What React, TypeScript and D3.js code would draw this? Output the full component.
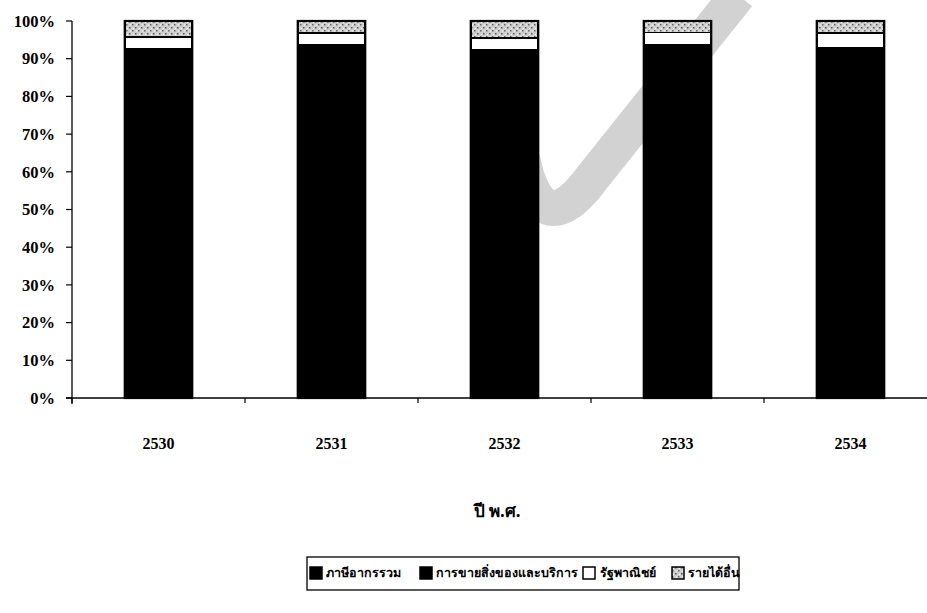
import React from "react";
import * as d3 from "d3";

const years = ["2530", "2531", "2532", "2533", "2534"];
const seriesNames = ["ภาษีอากรรวม", "การขายสิ่งของและบริการ", "รัฐพาณิชย์", "รายได้อื่น"];
const taxShare = [90.8, 91.8, 90.5, 91.8, 91.2];
const salesShare = [1.8, 1.8, 1.8, 1.8, 1.8];
const stateShare = [3.1, 3.2, 3.2, 3.4, 3.8];
const otherShare = [4.3, 3.2, 4.5, 3.0, 3.2];
const yTicks = [0, 10, 20, 30, 40, 50, 60, 70, 80, 90, 100];
const xTitle = "ปี พ.ศ.";

const W = 927;
const H = 613;
const left = 72;
const right = 937;
const top = 21;
const bottom = 398;

export default function App() {
  const x = d3.scaleBand<string>().domain(years).range([left, right]).paddingInner(0.61).paddingOuter(0.305);
  const y = d3.scaleLinear().domain([0, 100]).range([bottom, top]);
  const data = years.map((yr, i) => ({
    year: yr,
    tax: taxShare[i],
    sales: salesShare[i],
    state: stateShare[i],
    other: otherShare[i],
  }));
  const keys = ["tax", "sales", "state", "other"];
  const stack = d3.stack<any>().keys(keys)(data);
  const fills = ["#000", "#000", "#fff", "url(#stip)"];
  const step = x.step();
  const boundaries = years.map((_, i) => left + step * i).concat([left + step * years.length]);
  const serif = "Liberation Serif";
  const thai = "Noto Sans, DejaVu Sans, sans-serif";

  const legendItems = [
    { name: seriesNames[0], fill: "#000", x: 310, tx: 326 },
    { name: seriesNames[1], fill: "#000", x: 420, tx: 436 },
    { name: seriesNames[2], fill: "#fff", x: 583, tx: 600 },
    { name: seriesNames[3], fill: "url(#stip)", x: 672, tx: 688 },
  ];

  return (
    <svg width={W} height={H} style={{ position: "absolute", left: 0, top: 0, background: "#fff" }}>
      <defs>
        <pattern id="stip" width="6" height="6" patternUnits="userSpaceOnUse">
          <rect width="6" height="6" fill="#cfcfcf" />
          <rect x="0" y="0" width="1.5" height="1.5" fill="#666" />
          <rect x="3" y="3" width="1.5" height="1.5" fill="#555" />
          <rect x="4" y="0.5" width="1" height="1" fill="#fff" />
          <rect x="1" y="4" width="1" height="1" fill="#fff" />
        </pattern>
      </defs>
      {/* scan watermark */}
      <path d="M 738 -5 L 592 178 Q 548 238 527 178 L 514 130" fill="none" stroke="#d2d2d2" strokeWidth={36} strokeLinecap="butt" />
      {/* bars */}
      {stack.map((layer, li) =>
        layer.map((d, i) => (
          <rect
            key={li + "-" + i}
            x={x(years[i])!}
            y={y(d[1])}
            width={x.bandwidth()}
            height={y(d[0]) - y(d[1])}
            fill={fills[li]}
            stroke="#000"
            strokeWidth={li >= 2 ? 1.6 : 1}
            shapeRendering="crispEdges"
          />
        ))
      )}
      {years.map((yr) => (
        <rect key={"o" + yr} x={x(yr)!} y={y(100)} width={x.bandwidth()} height={y(0) - y(100)} fill="none" stroke="#000" strokeWidth={2.2} />
      ))}
      {/* y axis */}
      <line x1={left} x2={left} y1={top} y2={bottom + 6} stroke="#000" strokeWidth={1.3} />
      {yTicks.map((t) => (
        <g key={t}>
          <line x1={left - 6} x2={left} y1={y(t)} y2={y(t)} stroke="#000" strokeWidth={1.2} />
          <text x={left - 17} y={y(t)} dy="0.35em" textAnchor="end" fontFamily={serif} fontWeight="bold" fontSize={16.5} fill="#000">
            {t + "%"}
          </text>
        </g>
      ))}
      {/* x axis */}
      <line x1={left - 6} x2={W} y1={bottom} y2={bottom} stroke="#000" strokeWidth={1.3} />
      {boundaries.map((b, i) => (
        <line key={"b" + i} x1={b} x2={b} y1={bottom} y2={bottom + 5} stroke="#000" strokeWidth={1.2} />
      ))}
      {years.map((yr) => (
        <text key={"l" + yr} x={x(yr)! + x.bandwidth() / 2} y={443} dy="0.35em" textAnchor="middle" fontFamily={serif} fontWeight="bold" fontSize={16} fill="#000">
          {yr}
        </text>
      ))}
      <text x={497} y={511} dy="0.35em" textAnchor="middle" fontFamily={thai} fontWeight="bold" fontSize={17} fill="#000">
        {xTitle}
      </text>
      {/* legend */}
      <rect x={307} y={557} width={432} height={33} fill="#fff" stroke="#000" strokeWidth={1.3} />
      {legendItems.map((it) => (
        <g key={it.name}>
          <rect x={it.x} y={567} width={12} height={12} fill={it.fill} stroke="#000" strokeWidth={1.5} />
          <text x={it.tx} y={573} dy="0.35em" fontFamily={thai} fontWeight="bold" fontSize={12.5} fill="#000">
            {it.name}
          </text>
        </g>
      ))}
    </svg>
  );
}
